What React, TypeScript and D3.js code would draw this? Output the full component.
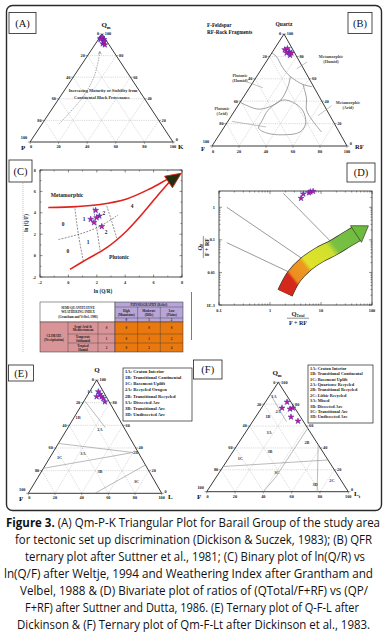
import * as d3 from "d3";

type Pt = [number, number];
type B3 = [number, number, number];

const SERIF = "'Liberation Serif', 'DejaVu Serif', serif";
const SANS = "'Open Sans', 'Noto Sans', sans-serif";

const TERN_TICKS = [0, 20, 40, 60, 80, 100];
const TERN_GRID = [20, 40, 60, 80];

// (A) Qm - P - K
const A_QM = [96, 97, 95, 91, 90, 95, 93];
const A_P = [3, 1.5, 1, 4, 3, 3.5, 2];
const A_K = [1, 1.5, 4, 5, 7, 1.5, 5];
const A_TREND: B3[] = [[83, 10, 7], [69, 19, 12], [57, 28, 15], [42, 42, 16], [27, 59, 14], [17, 71, 12]];

// (B) Q - F - RF
const B_Q = [86, 87, 84, 83, 81, 83];
const B_F = [6, 3.5, 3.4, 6, 4.4, 2.4];
const B_RF = [8, 9.5, 12.6, 11, 14.6, 14.6];
const B_META_HUMID: B3[] = [[83, 17, 0], [80, 15, 5], [70, 15, 15], [62, 13, 25], [55, 7, 38], [53, 1, 46]];
const B_PLUT_HUMID: B3[] = [[39, 61, 0], [33, 51, 16], [35, 41, 24], [41, 30, 29], [53, 19, 28], [62, 13, 25]];
const B_PLUT_ARID: B3[] = [[41, 28.5, 30.5], [32, 43.5, 24.5], [23, 52, 25], [16, 58, 26], [11.6, 54, 34.4], [10, 43, 47], [12.5, 29, 58.5], [20.5, 21, 58.5], [32, 18, 50], [39, 22, 39]];
const B_META_ARID: B3[] = [[55, 7, 38], [43, 10, 47], [32, 15, 53], [23, 15, 62], [12.5, 13, 74.5]];
const B_POINTERS: B3[][] = [
  [[57, 47, -4], [52, 38, 10]],
  [[75, -5.4, 30.4], [69, 5, 26]],
  [[36, -5.5, 69.5], [27, 9, 64]],
  [[22, 75, 3], [17, 52, 31]],
];

// (C) ln(Q/R) vs ln(Q/F)
const C_META_X = [-1.42, 0.58, 2.23, 4.1, 5.75, 6.92, 7.5];
const C_META_Y = [4.49, 4.58, 4.78, 5.3, 6.25, 7.1, 7.5];
const C_PLUT_X = [0.11, 1.29, 2.7, 4.1, 5.27, 6.45, 7.27];
const C_PLUT_Y = [-1.29, -0.35, 0.74, 2.3, 4.0, 5.88, 7.12];
const C_DASH: [number[], number[]][] = [
  [[-0.7, 1, 2.3, 3.5], [1.5, 2.1, 2.8, 3.8]],
  [[0.46, 0.7, 1.05], [4.4, 2.0, -0.5]],
  [[1.75, 2.0, 2.23], [4.5, 2.5, 0.5]],
  [[2.7, 3.05, 3.4], [4.65, 3.2, 1.65]],
];
const C_STAR_X = [1.92, 2.18, 1.57, 1.8, 2.35, 1.99];
const C_STAR_Y = [4.23, 3.7, 3.4, 3.09, 2.72, 3.55];
const C_ZONES = ["0", "1", "2", "4", "0", "1", "2"];
const C_ZONE_X = [-0.38, 1.1, 2.5, 4.48, -0.03, 1.38, 2.65];
const C_ZONE_Y = [3.0, 3.4, 3.95, 4.6, 0.42, 1.26, 2.2];
const C_TICKS = [-2, 0, 2, 4, 6, 8];

// weathering index table
const T_PHYSIO = ["High|(Mountains)", "Moderate|(Hills)", "Low|(Plains)"];
const T_CLIMATE = ["Semi-Arid &|Mediterranean", "Temperate|Subhumid", "Tropical|Humid"];
const T_CODES = ["0", "1", "2"];
const T_VALUES = [[0, 0, 0], [0, 1, 2], [0, 2, 4]];

// (D) Qtotal/(F+RF) vs Qp/(F+RF)
const D_X_TICKS = [0.1, 1, 10, 100];
const D_Y_TICKS = [0.001, 0.01, 0.1, 1];
const D_Y_LABELS = ["1E-3", "0.01", "0.1", "1"];
const D_LINE_X = [[0.142, 4.2], [0.142, 2.29], [1.82, 15]];
const D_LINE_Y = [[1.0, 0.027], [0.082, 0.0105], [2.69, 0.094]];
const D_BAND_X = [1.97, 2.95, 5.08, 9.55, 17.5, 30.9, 48.5];
const D_BAND_Y = [0.00234, 0.0075, 0.01816, 0.0356, 0.0575, 0.099, 0.151];
const D_TIP: Pt = [85, 0.27];
const D_STAR_X = [4.06, 4.5, 5.8, 6.2, 7.0];
const D_STAR_Y = [1.89, 2.56, 2.8, 3.0, 3.1];

// (E) Q - F - L
const E_Q = [89.7, 87.4, 85.3, 83.8, 85.3, 80.8];
const E_F = [3.8, 3.7, 3.5, 3.0, 7.2, 3.2];
const E_L = [6.5, 8.9, 11.2, 13.2, 7.5, 16];
const E_FIELDS: B3[][] = [
  [[44, 56, 0], [36, 4, 60]],
  [[22, 78, 0], [36, 4, 60]],
  [[25, 0, 75], [0, 50, 50]],
  [[82, 18, 0], [58, 14, 28]],
];
const E_ZONES = ["1A", "1B", "2A", "1C", "3A", "3B", "3C", "2B"];
const E_ZONE_POS: B3[] = [[90, 10, 0], [67, 30, 3], [56, 19, 25], [32, 61, 7], [35, 42, 23], [19, 37, 44], [10, 14, 76], [36, 2, 62]];
const E_LEGEND = ["1A: Craton Interior", "1B: Transitional Continental", "1C: Basement Uplift", "2A: Recycled Orogen", "2B: Transitional Recycled", "3A: Dissected Arc", "3B: Transitional Arc", "3D: Undissected Arc"];

// (F) Qm - F - Lt
const F_QM = [82, 76.5, 75.6, 76.5, 68.3, 64.6];
const F_F = [2.7, 9, 3.8, 1.3, 6.7, 3.6];
const F_LT = [15.3, 14.5, 20.6, 22.2, 25, 31.8];
const F_FIELDS: B3[][] = [
  [[23, 77, 0], [29, 0, 71]],
  [[58, 0, 42], [13, 45, 42]],
  [[13, 45, 42], [0, 60, 40]],
  [[43, 0, 57], [0, 22, 78]],
  [[89, 11, 0], [64, 12, 24]],
];
const F_ZONES = ["1A", "2A", "1B", "3A", "2B", "3B", "1C", "3C", "3D", "2C"];
const F_ZONE_POS: B3[] = [[86.6, 9.7, 3.7], [72.9, 13.6, 13.5], [68.3, 23, 8.7], [53.7, 29.4, 16.9], [45.4, 6.8, 47.8], [36.3, 37.4, 26.3], [30.8, 61, 8.2], [17.1, 42, 40.9], [7, 20, 73], [9.8, 6.7, 83.5]];
const F_LEGEND = ["1A: Craton Interior", "1B: Transitional Continental", "1C: Basement Uplift", "2A: Quartzose Recycled", "2B: Transitional Recycled", "2C: Lithic Recycled", "3A: Mixed", "3B: Dissected Arc", "3C: Transitional Arc", "3D: Undissected Arc"];

const CAPTION = [
  "for tectonic set up discrimination (Dickison & Suczek, 1983); (B) QFR",
  "ternary plot after Suttner et al., 1981; (C) Binary plot of ln(Q/R) vs",
  "ln(Q/F) after Weltje, 1994 and Weathering Index after Grantham and",
  "Velbel, 1988 & (D) Bivariate plot of ratios of (QTotal/F+RF) vs (QP/",
  "F+RF) after Suttner and Dutta, 1986. (E) Ternary plot of Q-F-L after",
  "Dickinson & (F) Ternary plot of Qm-F-Lt after Dickinson et al., 1983.",
];
const CAPTION_SPAN: Pt[] = [[15, 372], [25, 365], [4, 373], [20, 368], [25, 359], [17, 370]];
const CAP_SX = 0.86;

const starPath = d3.symbol().type(d3.symbolStar).size(11)() as string;
const smooth = d3.line<Pt>().curve(d3.curveCatmullRom.alpha(0.5));
const straight = d3.line<Pt>();

function ternary(T: Pt, L: Pt, R: Pt) {
  return (a: number, b: number, c: number): Pt => {
    const s = a + b + c;
    return [(a * T[0] + b * L[0] + c * R[0]) / s, (a * T[1] + b * L[1] + c * R[1]) / s];
  };
}

function Stars({ pts, fill = "#d0158a", stroke = "#3b2bbd" }: { pts: Pt[]; fill?: string; stroke?: string }) {
  return (
    <g>
      {pts.map((p, i) => (
        <path key={i} d={starPath} transform={`translate(${p[0]},${p[1]})`} fill={fill} stroke={stroke} strokeWidth={0.5} />
      ))}
    </g>
  );
}

function TernaryFrame({ T, L, R, fs = 4.3, bdy = 6 }: { T: Pt; L: Pt; R: Pt; fs?: number; bdy?: number }) {
  const tp = ternary(T, L, R);
  const grid: Pt[][] = TERN_GRID.flatMap((v) => [
    [tp(v, 100 - v, 0), tp(v, 0, 100 - v)],
    [tp(100 - v, v, 0), tp(0, v, 100 - v)],
    [tp(100 - v, 0, v), tp(0, 100 - v, v)],
  ]);
  return (
    <g fontFamily={SERIF} fontWeight="bold" fontSize={fs} fill="#222">
      {grid.map((g, i) => (
        <path key={i} d={straight(g) as string} stroke="#b4b4b4" strokeWidth={0.5} strokeDasharray="1.2,1" fill="none" />
      ))}
      <path d={straight([T, L, R, T]) as string} fill="none" stroke="#222" strokeWidth={0.9} />
      {TERN_TICKS.map((v) => {
        const pl = tp(100 - v, v, 0);
        const pr = tp(v, 0, 100 - v);
        const pb = tp(0, 100 - v, v);
        const ly = v === 100 ? -2.6 : 1.4;
        const ry = v === 0 ? -0.6 : 1.4;
        return (
          <g key={v}>
            <line x1={pl[0]} y1={pl[1]} x2={pl[0] - 2.2} y2={pl[1]} stroke="#444" strokeWidth={0.5} />
            <text x={pl[0] - 2.8} y={pl[1] + ly} textAnchor="end">{v}</text>
            <line x1={pr[0]} y1={pr[1]} x2={pr[0] + 2.2} y2={pr[1]} stroke="#444" strokeWidth={0.5} />
            <text x={pr[0] + 2.8} y={pr[1] + ry}>{v}</text>
            <line x1={pb[0]} y1={pb[1]} x2={pb[0]} y2={pb[1] + 1.8} stroke="#444" strokeWidth={0.5} />
            <text x={pb[0] + (v === 0 ? 1 : 0)} y={pb[1] + bdy} textAnchor="middle">{v}</text>
          </g>
        );
      })}
    </g>
  );
}

function LabelBox({ x, y, w, h, t }: { x: number; y: number; w: number; h: number; t: string }) {
  return (
    <g>
      <rect x={x} y={y} width={w} height={h} fill="#fff" stroke="#222" strokeWidth={0.8} />
      <text x={x + w / 2} y={y + h / 2 + 3.6} textAnchor="middle" fontFamily={SERIF} fontSize={10.5} fill="#111">{t}</text>
    </g>
  );
}

function Legend({ x, y, w, h, items, dy, fs }: { x: number; y: number; w: number; h: number; items: string[]; dy: number; fs: number }) {
  return (
    <g fontFamily={SERIF} fontWeight="bold" fontSize={fs} fill="#222">
      <rect x={x} y={y} width={w} height={h} fill="#fff" stroke="#222" strokeWidth={0.7} />
      {items.map((s, i) => (
        <text key={i} x={x + 2} y={y + 4.8 + i * dy}>{s}</text>
      ))}
    </g>
  );
}

function PanelA() {
  const T: Pt = [102, 34], L: Pt = [30, 142], R: Pt = [173, 142];
  const tp = ternary(T, L, R);
  const stars = A_QM.map((q, i) => tp(q, A_P[i], A_K[i]));
  const trend = A_TREND.map((d) => tp(...d));
  return (
    <g>
      <TernaryFrame T={T} L={L} R={R} />
      <path d={smooth(trend) as string} fill="none" stroke="#777" strokeWidth={0.6} strokeDasharray="1.5,1" />
      <path d={`M${trend[0][0] - 1.5},${trend[0][1] + 2}L${trend[0][0]},${trend[0][1] - 1}L${trend[0][0] + 1.5},${trend[0][1] + 2}`} fill="none" stroke="#555" strokeWidth={0.5} />
      <g fontFamily={SERIF} fontWeight="bold" fontSize={4.3} fill="#333" textAnchor="middle">
        <text x={103} y={92}>Increasing Maturity or Stability from</text>
        <text x={102} y={99}>Continental Block Provenance</text>
      </g>
      <g fontFamily={SERIF} fontWeight="bold" fill="#111">
        <text x={106} y={27} fontSize={7} textAnchor="middle">Q<tspan fontSize={4.5} dy={1.5}>m</tspan></text>
        <text x={21} y={150} fontSize={7}>P</text>
        <text x={178} y={149} fontSize={7}>K</text>
      </g>
      <Stars pts={stars} />
      <LabelBox x={9} y={12.5} w={27} h={21} t="(A)" />
    </g>
  );
}

function PanelB() {
  const T: Pt = [284, 34], L: Pt = [212, 146], R: Pt = [347, 146];
  const tp = ternary(T, L, R);
  const stars = B_Q.map((q, i) => tp(q, B_F[i], B_RF[i]));
  const curve = (c: B3[]) => smooth(c.map((d) => tp(...d))) as string;
  const loop = d3.line<Pt>().curve(d3.curveCatmullRomClosed.alpha(0.5))(B_PLUT_ARID.map((d) => tp(...d))) as string;
  return (
    <g>
      <TernaryFrame T={T} L={L} R={R} bdy={7} />
      <g fill="none" stroke="#8a8a8a" strokeWidth={0.8}>
        <path d={curve(B_META_HUMID)} />
        <path d={curve(B_PLUT_HUMID)} />
        <path d={curve(B_META_ARID)} />
        <path d={loop} />
      </g>
      {B_POINTERS.map((p, i) => {
        const a = tp(...p[0]), b = tp(...p[1]);
        return <line key={i} x1={a[0]} y1={a[1]} x2={b[0]} y2={b[1]} stroke="#777" strokeWidth={0.45} />;
      })}
      <g fontFamily={SERIF} fontWeight="bold" fontSize={4.2} fill="#444" textAnchor="middle">
        <text x={331} y={58}>Metamorphic</text>
        <text x={331} y={63}>(Humid)</text>
        <text x={240} y={77}>Plutonic</text>
        <text x={240} y={82}>(Humid)</text>
        <text x={348} y={104}>Metamorphic</text>
        <text x={348} y={109}>(Arid)</text>
        <text x={222} y={110}>Plutonic</text>
        <text x={222} y={115}>(Arid)</text>
      </g>
      <g fontFamily={SERIF} fontWeight="bold" fill="#111">
        <text x={207} y={27} fontSize={5.2}>F-Feldspar</text>
        <text x={207} y={34} fontSize={5.2}>RF-Rock Fragments</text>
        <text x={284} y={26} fontSize={5.5} textAnchor="middle">Quartz</text>
        <text x={201} y={151} fontSize={6.5}>F</text>
        <text x={355} y={149} fontSize={6.5}>RF</text>
      </g>
      <Stars pts={stars} />
      <LabelBox x={348} y={12.5} w={24} h={21} t="(B)" />
    </g>
  );
}

function PanelC() {
  const xC = d3.scaleLinear().domain([-2, 8]).range([40, 182]);
  const yC = d3.scaleLinear().domain([-2, 8]).range([277, 170]);
  const pts = (xs: number[], ys: number[]): Pt[] => xs.map((x, i) => [xC(x), yC(ys[i])]);
  const minor = d3.range(-2, 8.01, 1);
  const tip: Pt = [xC(7.95), yC(7.7)];
  const base: Pt = [xC(7.05), yC(6.88)];
  const dx = tip[0] - base[0], dy = tip[1] - base[1];
  const len = Math.hypot(dx, dy);
  const nx = -dy / len * 7, ny = dx / len * 7;
  return (
    <g>
      <rect x={40} y={170} width={142} height={107} fill="none" stroke="#222" strokeWidth={0.8} />
      {minor.map((v) => {
        const big = v % 2 === 0;
        const t = big ? 2.5 : 1.4;
        return (
          <g key={v} stroke="#222" strokeWidth={0.5}>
            <line x1={xC(v)} y1={277} x2={xC(v)} y2={277 - t} />
            <line x1={xC(v)} y1={170} x2={xC(v)} y2={170 + t} />
            <line x1={40} y1={yC(v)} x2={40 + t} y2={yC(v)} />
            <line x1={182} y1={yC(v)} x2={182 - t} y2={yC(v)} />
          </g>
        );
      })}
      <g fontFamily={SERIF} fontWeight="bold" fontSize={4.3} fill="#222">
        {C_TICKS.map((v) => (
          <g key={v}>
            <text x={xC(v)} y={284} textAnchor="middle">{v}</text>
            <text x={36} y={yC(v) + 1.5} textAnchor="end">{v}</text>
          </g>
        ))}
        <text x={103} y={293} fontSize={5.2} textAnchor="middle">ln (Q/R)</text>
        <text transform={`translate(28,223) rotate(-90)`} fontSize={5.2} textAnchor="middle">ln (Q/F)</text>
      </g>
      {C_DASH.map((d, i) => (
        <path key={i} d={smooth(pts(d[0], d[1])) as string} fill="none" stroke="#333" strokeWidth={0.55} strokeDasharray="2,1.2" />
      ))}
      <path d={smooth(pts(C_META_X, C_META_Y)) as string} fill="none" stroke="#e0231c" strokeWidth={1.6} />
      <path d={smooth(pts(C_PLUT_X, C_PLUT_Y)) as string} fill="none" stroke="#e0231c" strokeWidth={1.6} />
      <path d={`M${tip[0]},${tip[1]}L${base[0] + nx},${base[1] + ny}L${base[0] - nx},${base[1] - ny}Z`} fill="#23300f" stroke="#e0231c" strokeWidth={0.9} />
      <g fontFamily={SERIF} fontWeight="bold" fontSize={5.4} fill="#222" textAnchor="middle">
        {C_ZONES.map((z, i) => (
          <text key={i} x={xC(C_ZONE_X[i])} y={yC(C_ZONE_Y[i]) + 2}>{z}</text>
        ))}
        <text x={67} y={197} fontSize={5.6}>Metamorphic</text>
        <text x={119} y={259} fontSize={5.6}>Plutonic</text>
      </g>
      <Stars pts={pts(C_STAR_X, C_STAR_Y)} />
      <LabelBox x={9} y={160} w={23} h={22} t="(C)" />
    </g>
  );
}

function WeatherTable() {
  const cx = [40, 68, 98, 115, 137.6, 160.3, 183];
  const ry = [302, 307, 318, 322, 334, 343, 352];
  const two = (s: string, x: number, y: number, gap = 3.6) =>
    s.split("|").map((t, i) => (
      <text key={i} x={x} y={y + i * gap} textAnchor="middle">{t}</text>
    ));
  return (
    <g fontFamily={SERIF} fontWeight="bold" fontSize={3.2} fill="#222" stroke="none">
      <rect x={40} y={302} width={75} height={20} fill="#fff" stroke="#333" strokeWidth={0.5} />
      <rect x={115} y={302} width={68} height={20} fill="#b6a5d6" stroke="#333" strokeWidth={0.5} />
      <rect x={40} y={322} width={75} height={30} fill="#d99497" stroke="#333" strokeWidth={0.5} />
      <rect x={115} y={322} width={68} height={30} fill="#e9790f" stroke="#333" strokeWidth={0.5} />
      <line x1={115} y1={307} x2={183} y2={307} stroke="#333" strokeWidth={0.4} />
      <line x1={115} y1={318} x2={183} y2={318} stroke="#333" strokeWidth={0.4} />
      {[4, 5].map((c) => <line key={c} x1={cx[c]} y1={307} x2={cx[c]} y2={352} stroke="#333" strokeWidth={0.4} />)}
      {[1, 2].map((c) => <line key={c} x1={cx[c]} y1={322} x2={cx[c]} y2={352} stroke="#333" strokeWidth={0.4} />)}
      {[4, 5].map((r) => <line key={r} x1={68} y1={ry[r]} x2={183} y2={ry[r]} stroke="#333" strokeWidth={0.4} />)}
      <text x={78} y={309} textAnchor="middle">SEMI-QUANTITATIVE</text>
      <text x={78} y={313} textAnchor="middle">WEATHERING INDEX</text>
      <text x={78} y={317.5} textAnchor="middle">(Grantham and Velbel, 1988)</text>
      <text x={149} y={306} textAnchor="middle">PHYSIOGRAPHY (Relief)</text>
      {T_PHYSIO.map((s, i) => (
        <g key={i}>
          {two(s, (cx[3 + i] + cx[4 + i]) / 2, 312)}
          <text x={(cx[3 + i] + cx[4 + i]) / 2} y={321.2} textAnchor="middle">{T_CODES[i]}</text>
        </g>
      ))}
      {two("CLIMATE|(Precipitation)", 54, 336.5, 4)}
      {T_CLIMATE.map((s, r) => (
        <g key={r}>
          {two(s, 83, (ry[3 + r] + ry[4 + r]) / 2 - 0.4)}
          <text x={106.5} y={(ry[3 + r] + ry[4 + r]) / 2 + 1.2} textAnchor="middle">{T_CODES[r]}</text>
          {T_VALUES[r].map((v, c) => (
            <text key={c} x={(cx[3 + c] + cx[4 + c]) / 2} y={(ry[3 + r] + ry[4 + r]) / 2 + 1.2} textAnchor="middle">{v}</text>
          ))}
        </g>
      ))}
    </g>
  );
}

function PanelD() {
  const xD = d3.scaleLog().domain([0.1, 100]).range([219, 372]);
  const yD = d3.scaleLog().domain([0.001, 3.162]).range([305, 191]);
  const xMinor = d3.range(-1, 2).flatMap((e) => d3.range(2, 10).map((m) => m * 10 ** e));
  const yMinor = d3.range(-3, 1).flatMap((e) => d3.range(2, 10).map((m) => m * 10 ** e)).filter((v) => v <= 3.162);
  const band: Pt[] = D_BAND_X.map((x, i) => [xD(x), yD(D_BAND_Y[i])]);
  const b0 = band[0];
  const tip: Pt = [xD(D_TIP[0]), yD(D_TIP[1])];
  const end = band[band.length - 1];
  const dx = tip[0] - end[0], dy = tip[1] - end[1];
  const len = Math.hypot(dx, dy);
  const nx = -dy / len * 10, ny = dx / len * 10;
  const bandPath = smooth([...band, [end[0] + dx * 0.1, end[1] + dy * 0.1]]) as string;
  return (
    <g>
      <defs>
        <linearGradient id="wgrad" gradientUnits="userSpaceOnUse" x1={b0[0]} y1={b0[1]} x2={tip[0]} y2={tip[1]}>
          <stop offset="0" stopColor="#d3281b" />
          <stop offset="0.13" stopColor="#d3281b" />
          <stop offset="0.16" stopColor="#ec8d1f" />
          <stop offset="0.3" stopColor="#ec9a1f" />
          <stop offset="0.34" stopColor="#e2e22a" />
          <stop offset="0.58" stopColor="#cfe02e" />
          <stop offset="0.64" stopColor="#79c043" />
          <stop offset="1" stopColor="#6cbb3f" />
        </linearGradient>
      </defs>
      <rect x={219} y={191} width={153} height={114} fill="none" stroke="#222" strokeWidth={0.8} />
      <g stroke="#222" strokeWidth={0.5}>
        {D_X_TICKS.map((v) => (
          <g key={v}>
            <line x1={xD(v)} y1={305} x2={xD(v)} y2={302} />
            <line x1={xD(v)} y1={191} x2={xD(v)} y2={194} />
          </g>
        ))}
        {xMinor.map((v) => (
          <g key={v}>
            <line x1={xD(v)} y1={305} x2={xD(v)} y2={303.5} />
            <line x1={xD(v)} y1={191} x2={xD(v)} y2={192.5} />
          </g>
        ))}
        {D_Y_TICKS.map((v) => (
          <g key={v}>
            <line x1={219} y1={yD(v)} x2={222} y2={yD(v)} />
            <line x1={372} y1={yD(v)} x2={369} y2={yD(v)} />
          </g>
        ))}
        {yMinor.map((v) => (
          <g key={v}>
            <line x1={219} y1={yD(v)} x2={220.5} y2={yD(v)} />
            <line x1={372} y1={yD(v)} x2={370.5} y2={yD(v)} />
          </g>
        ))}
      </g>
      <g fontFamily={SERIF} fontWeight="bold" fontSize={4.3} fill="#222">
        {D_X_TICKS.map((v) => (
          <text key={v} x={xD(v)} y={312} textAnchor="middle">{v}</text>
        ))}
        {D_Y_TICKS.map((v, i) => (
          <text key={v} x={215} y={yD(v) + 1.5} textAnchor="end">{D_Y_LABELS[i]}</text>
        ))}
        <text x={298} y={316} fontSize={6.5} textAnchor="middle">Q<tspan fontSize={3.6} dy={1.2}>Total</tspan></text>
        <line x1={287} y1={318.2} x2={309} y2={318.2} stroke="#222" strokeWidth={0.5} />
        <text x={298} y={324.5} fontSize={6} textAnchor="middle">F + RF</text>
        <g transform="translate(203,247) rotate(-90)">
          <text x={0} y={-1.5} fontSize={6.2} textAnchor="middle">Q<tspan fontSize={3.6} dy={1.2}>P</tspan></text>
          <line x1={-11} y1={0.3} x2={11} y2={0.3} stroke="#222" strokeWidth={0.5} />
          <text x={0} y={6} fontSize={6} textAnchor="middle">F + RF</text>
        </g>
      </g>
      {D_LINE_X.map((xs, i) => (
        <path key={i} d={straight(xs.map((x, j) => [xD(x), yD(D_LINE_Y[i][j])] as Pt)) as string} stroke="#555" strokeWidth={0.6} fill="none" />
      ))}
      <path d={bandPath} fill="none" stroke="#3a3a2a" strokeWidth={16.4} />
      <path d={bandPath} fill="none" stroke="url(#wgrad)" strokeWidth={15} />
      <path d={`M${tip[0]},${tip[1]}L${end[0] + nx},${end[1] + ny}L${end[0] - nx},${end[1] - ny}Z`} fill="#6cbb3f" stroke="#3a3a2a" strokeWidth={0.7} />
      <Stars pts={D_STAR_X.map((x, i) => [xD(x), yD(D_STAR_Y[i])] as Pt)} />
      <LabelBox x={347} y={163} w={28} h={19} t="(D)" />
    </g>
  );
}

function PanelE() {
  const T: Pt = [96.7, 380], L: Pt = [28.3, 493.3], R: Pt = [161.7, 493.3];
  const tp = ternary(T, L, R);
  return (
    <g>
      <TernaryFrame T={T} L={L} R={R} />
      {E_FIELDS.map((f, i) => (
        <path key={i} d={straight(f.map((d) => tp(...d))) as string} fill="none" stroke="#8c8c8c" strokeWidth={0.6} />
      ))}
      <g fontFamily={SERIF} fontWeight="bold" fontSize={4.3} fill="#333" textAnchor="middle">
        {E_ZONES.map((z, i) => {
          const p = tp(...E_ZONE_POS[i]);
          return <text key={i} x={p[0]} y={p[1] + 1.5}>{z}</text>;
        })}
      </g>
      <g fontFamily={SERIF} fontWeight="bold" fill="#111" fontSize={7}>
        <text x={97} y={372} textAnchor="middle">Q</text>
        <text x={19} y={501}>F</text>
        <text x={168} y={499}>L</text>
      </g>
      <Stars pts={E_Q.map((q, i) => tp(q, E_F[i], E_L[i]))} fill="#c8178e" stroke="#2f2fd0" />
      <Legend x={123} y={368} w={69} h={53} items={E_LEGEND} dy={6.2} fs={4.6} />
      <LabelBox x={8.5} y={365} w={25} h={16} t="(E)" />
    </g>
  );
}

function PanelF() {
  const T: Pt = [278.3, 382.3], L: Pt = [206.7, 491.7], R: Pt = [348.3, 491.7];
  const tp = ternary(T, L, R);
  return (
    <g>
      <TernaryFrame T={T} L={L} R={R} />
      {F_FIELDS.map((f, i) => (
        <path key={i} d={straight(f.map((d) => tp(...d))) as string} fill="none" stroke="#8c8c8c" strokeWidth={0.6} />
      ))}
      <g fontFamily={SERIF} fontWeight="bold" fontSize={4.3} fill="#333" textAnchor="middle">
        {F_ZONES.map((z, i) => {
          const p = tp(...F_ZONE_POS[i]);
          return <text key={i} x={p[0]} y={p[1] + 1.5}>{z}</text>;
        })}
      </g>
      <g fontFamily={SERIF} fontWeight="bold" fill="#111" fontSize={7}>
        <text x={277} y={375} textAnchor="middle">Q<tspan fontSize={4.5} dy={1.5}>m</tspan></text>
        <text x={197} y={499}>F</text>
        <text x={354} y={496}>L<tspan fontSize={4.5} dy={1.5}>t</tspan></text>
      </g>
      <Stars pts={F_QM.map((q, i) => tp(q, F_F[i], F_LT[i]))} />
      <Legend x={308} y={365} w={65} h={58} items={F_LEGEND} dy={5.4} fs={4.3} />
      <LabelBox x={193.5} y={360} w={28.5} h={19} t="(F)" />
    </g>
  );
}

export default function App() {
  return (
    <svg width={385} height={634} style={{ position: "absolute", left: 0, top: 0, background: "#fff" }}>
      <rect x={0} y={0} width={385} height={634} fill="#fff" />
      <rect x={6.5} y={5.5} width={375} height={505} rx={6} fill="none" stroke="#2a2a2a" strokeWidth={1.4} />
      <line x1={23} y1={183} x2={23} y2={352} stroke="#aaa" strokeWidth={0.7} strokeDasharray="1,1" />
      <line x1={191.5} y1={292} x2={191.5} y2={340} stroke="#444" strokeWidth={0.7} />
      <PanelA />
      <PanelB />
      <PanelC />
      <WeatherTable />
      <PanelD />
      <PanelE />
      <PanelF />
      <g fontFamily={SANS} fontSize={12.4} fill="#111">
        <text transform={`translate(193,527) scale(${CAP_SX},1)`} textAnchor="middle" textLength={374 / CAP_SX} lengthAdjust="spacingAndGlyphs">
          <tspan fontWeight="bold">Figure 3.</tspan> (A) Qm-P-K Triangular Plot for Barail Group of the study area
        </text>
        {CAPTION.map((s, i) => (
          <text key={i} transform={`translate(${(CAPTION_SPAN[i][0] + CAPTION_SPAN[i][1]) / 2},${544 + i * 17}) scale(${CAP_SX},1)`} textAnchor="middle" textLength={(CAPTION_SPAN[i][1] - CAPTION_SPAN[i][0]) / CAP_SX} lengthAdjust="spacingAndGlyphs">{s}</text>
        ))}
      </g>
    </svg>
  );
}
